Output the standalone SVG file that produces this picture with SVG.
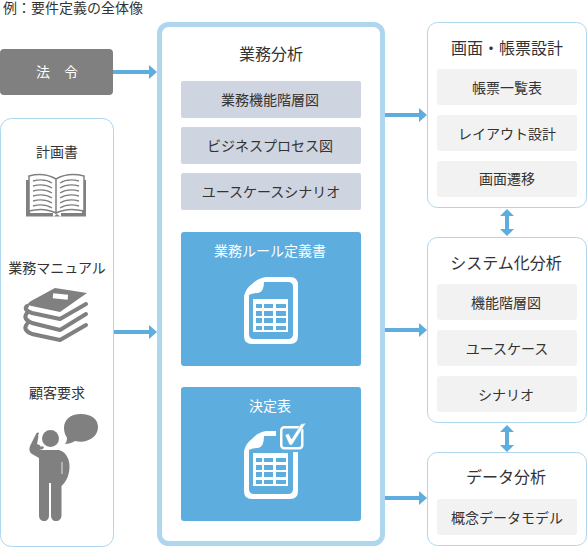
<svg xmlns="http://www.w3.org/2000/svg" width="587" height="547" viewBox="0 0 587 547">
<style>
text{font-family:"Noto Sans CJK JP","Noto Sans",sans-serif;fill:#333;text-anchor:middle;font-size:14px}
.h{font-size:16px}
.w{fill:#fff}
.panel{fill:#fff;stroke:#aed6ee;stroke-width:1}
.sub{fill:#f2f2f2}
.gb{fill:#ced5e0}
.bl{fill:#5daddf}
.ic{fill:#808080}
.line{stroke:#5daddf;stroke-width:4;fill:none}
.hd{fill:#5daddf}
</style>
<defs>
<g id="table">
<path fill="#fff" d="M253 299H288V332H253Z"/>
<path class="bl" d="M256 304H262V308H256ZM264 304H273V308H264ZM276 304H286V308H276ZM256 311H262V316H256ZM264 311H273V316H264ZM276 311H286V316H276ZM256 318H262V323H256ZM264 318H273V323H264ZM276 318H286V323H276ZM256 326H262V330H256ZM264 326H273V330H264ZM276 326H286V330H276Z"/>
</g>
</defs>
<text x="3" y="13" style="text-anchor:start">例：要件定義の全体像</text>
<g id="connectors">
<path class="line" d="M113 72H150M113 332H150M385 115H420M385 330H420M385 498H420"/>
<path class="hd" d="M149 65L157 72L149 79ZM149 325L157 332L149 339ZM419 108L427 115L419 122ZM419 323L427 330L419 337ZM419 491L427 498L419 505Z"/>
<path class="hd" d="M507 209L514 216H509V229H514L507 236L500 229H505V216H500Z"/>
<path class="hd" d="M507 425L514 432H509V445H514L507 452L500 445H505V432H500Z"/>
</g>
<g id="law">
<rect x="0" y="49" width="113" height="46" rx="4" fill="#808080"/>
<text class="w" x="57" y="77">法　令</text>
</g>
<g id="inputs">
<rect class="panel" x="0.500" y="118.500" width="113" height="428" rx="11"/>
<text x="57" y="157">計画書</text>
<path class="ic" d="M26 180H30V213H53V217L57 214L61 217V213H82V180H86V216.500H26Z"/>
<path fill="#fff" stroke="#808080" stroke-width="1.500" d="M29 176Q44 172 56 179V213Q44 207 29 211ZM84 176Q68 172 56 179V213Q68 207 84 211Z"/>
<path fill="none" stroke="#808080" stroke-width="1.300" d="M33 181Q44 178 52 183M33 186Q44 183 52 188M33 191Q44 188 52 193M33 196Q44 193 52 198M33 201Q44 198 52 203M33 206Q44 203 52 208M79 181Q68 178 60 183M79 186Q68 183 60 188M79 191Q68 188 60 193M79 196Q68 193 60 198M79 201Q68 198 60 203M79 206Q68 203 60 208"/>
<text x="57" y="273">業務マニュアル</text>
<path class="ic" d="M27 305Q28 303 31 301L55 288L87 293L60 312Z"/>
<rect x="53" y="294" width="15" height="5" transform="rotate(6 60 296)" fill="#fff"/>
<path fill="none" stroke="#808080" stroke-width="4" stroke-linecap="round" stroke-linejoin="round" d="M86 304L60 319L32 313Q23 310 27 306M86 314L60 330L32 323Q22 319 27 313M86 325L60 340L32 334Q22 330 27 324"/>
<text x="57" y="398">顧客要求</text>
<path class="ic" d="M81 414C70 414 64 420 64 428C64 433 66 436 67 438C67 441 66 443 65 444C69 444 73 442 75 441C79 442 83 442 86 441C93 439 98 434 98 427C98 419 91 414 81 414Z"/>
<circle class="ic" cx="50.500" cy="438.500" r="8.500"/>
<path class="ic" d="M39 450H59C66 452 69.500 459 69.500 466C69.500 474 67 481 61.500 486V515C61.500 519 59 521 56 521C53 521 51 519 51 515V483H49V515C49 519 47 521 44.500 521C41 521 39 519 39 515V458L32 454C29 452 29 449 30 446L36 434C37 432 39 432 39 434L37 444L44 447L43 449Z"/>
<path fill="none" stroke="#fff" stroke-width="0.800" d="M38.500 434L41 447M62 462V474"/>
</g>
<g id="analysis">
<rect x="159.500" y="24.500" width="223" height="519" rx="9" fill="#fff" stroke="#aed6ee" stroke-width="5"/>
<text class="h" x="271" y="60">業務分析</text>
<rect class="gb" x="181" y="81" width="180" height="37" rx="2"/>
<text x="270" y="105">業務機能階層図</text>
<rect class="gb" x="181" y="127" width="180" height="37" rx="2"/>
<text x="270" y="151">ビジネスプロセス図</text>
<rect class="gb" x="181" y="173" width="180" height="37" rx="2"/>
<text x="271" y="197">ユースケースシナリオ</text>
</g>
<g id="rules">
<rect class="bl" x="181" y="232" width="180" height="134" rx="3"/>
<text class="w" x="270" y="256">業務ルール定義書</text>
<path fill="#fff" d="M244 296Q246 288 252 284Q258 278 266 277H290Q298 277 298 285V336Q298 344 290 344H252Q244 344 244 336Z"/>
<path class="bl" d="M264 282H288Q293 282 293 287V334Q293 339 288 339H254Q249 339 249 334V295Q252 293 258 293Q264 292 264 282Z"/>
<use href="#table"/>
</g>
<g id="decision">
<rect class="bl" x="181" y="387" width="180" height="134" rx="3"/>
<text class="w" x="270" y="411">決定表</text>
<path fill="#fff" d="M244 451Q246 443 252 439Q258 432 266 431H276V436H264Q264 447 258 448Q252 448 249 450V489Q249 494 254 494H288Q293 494 293 489V452H298V491Q298 499 290 499H252Q244 499 244 491Z"/>
<use href="#table" y="154"/>
<rect x="281.250" y="427.250" width="21" height="21" rx="3" fill="#5daddf" stroke="#fff" stroke-width="2.500"/>
<path fill="#fff" d="M285 435L288.500 433.500L291.500 439L301 424L306 423L292 445H289.500Z" stroke="#5daddf" stroke-width="0.500"/>
</g>
<g id="screen">
<rect class="panel" x="427.500" y="22.500" width="159" height="185" rx="10"/>
<text class="h" x="507" y="54">画面・帳票設計</text>
<rect class="sub" x="437" y="69" width="140" height="36" rx="3"/>
<text x="507" y="93">帳票一覧表</text>
<rect class="sub" x="437" y="115" width="140" height="36" rx="3"/>
<text x="507" y="139">レイアウト設計</text>
<rect class="sub" x="437" y="161" width="140" height="36" rx="3"/>
<text x="507" y="184">画面遷移</text>
</g>
<g id="system">
<rect class="panel" x="427.500" y="237.500" width="159" height="185" rx="10"/>
<text class="h" x="506" y="269">システム化分析</text>
<rect class="sub" x="437" y="284" width="140" height="36" rx="3"/>
<text x="506" y="308">機能階層図</text>
<rect class="sub" x="437" y="330" width="140" height="36" rx="3"/>
<text x="507" y="354">ユースケース</text>
<rect class="sub" x="437" y="376" width="140" height="36" rx="3"/>
<text x="506" y="400">シナリオ</text>
</g>
<g id="data">
<rect class="panel" x="427.500" y="452.500" width="159" height="93" rx="10"/>
<text class="h" x="506" y="483">データ分析</text>
<rect class="sub" x="437" y="499" width="140" height="36" rx="3"/>
<text x="507" y="523">概念データモデル</text>
</g>
</svg>
